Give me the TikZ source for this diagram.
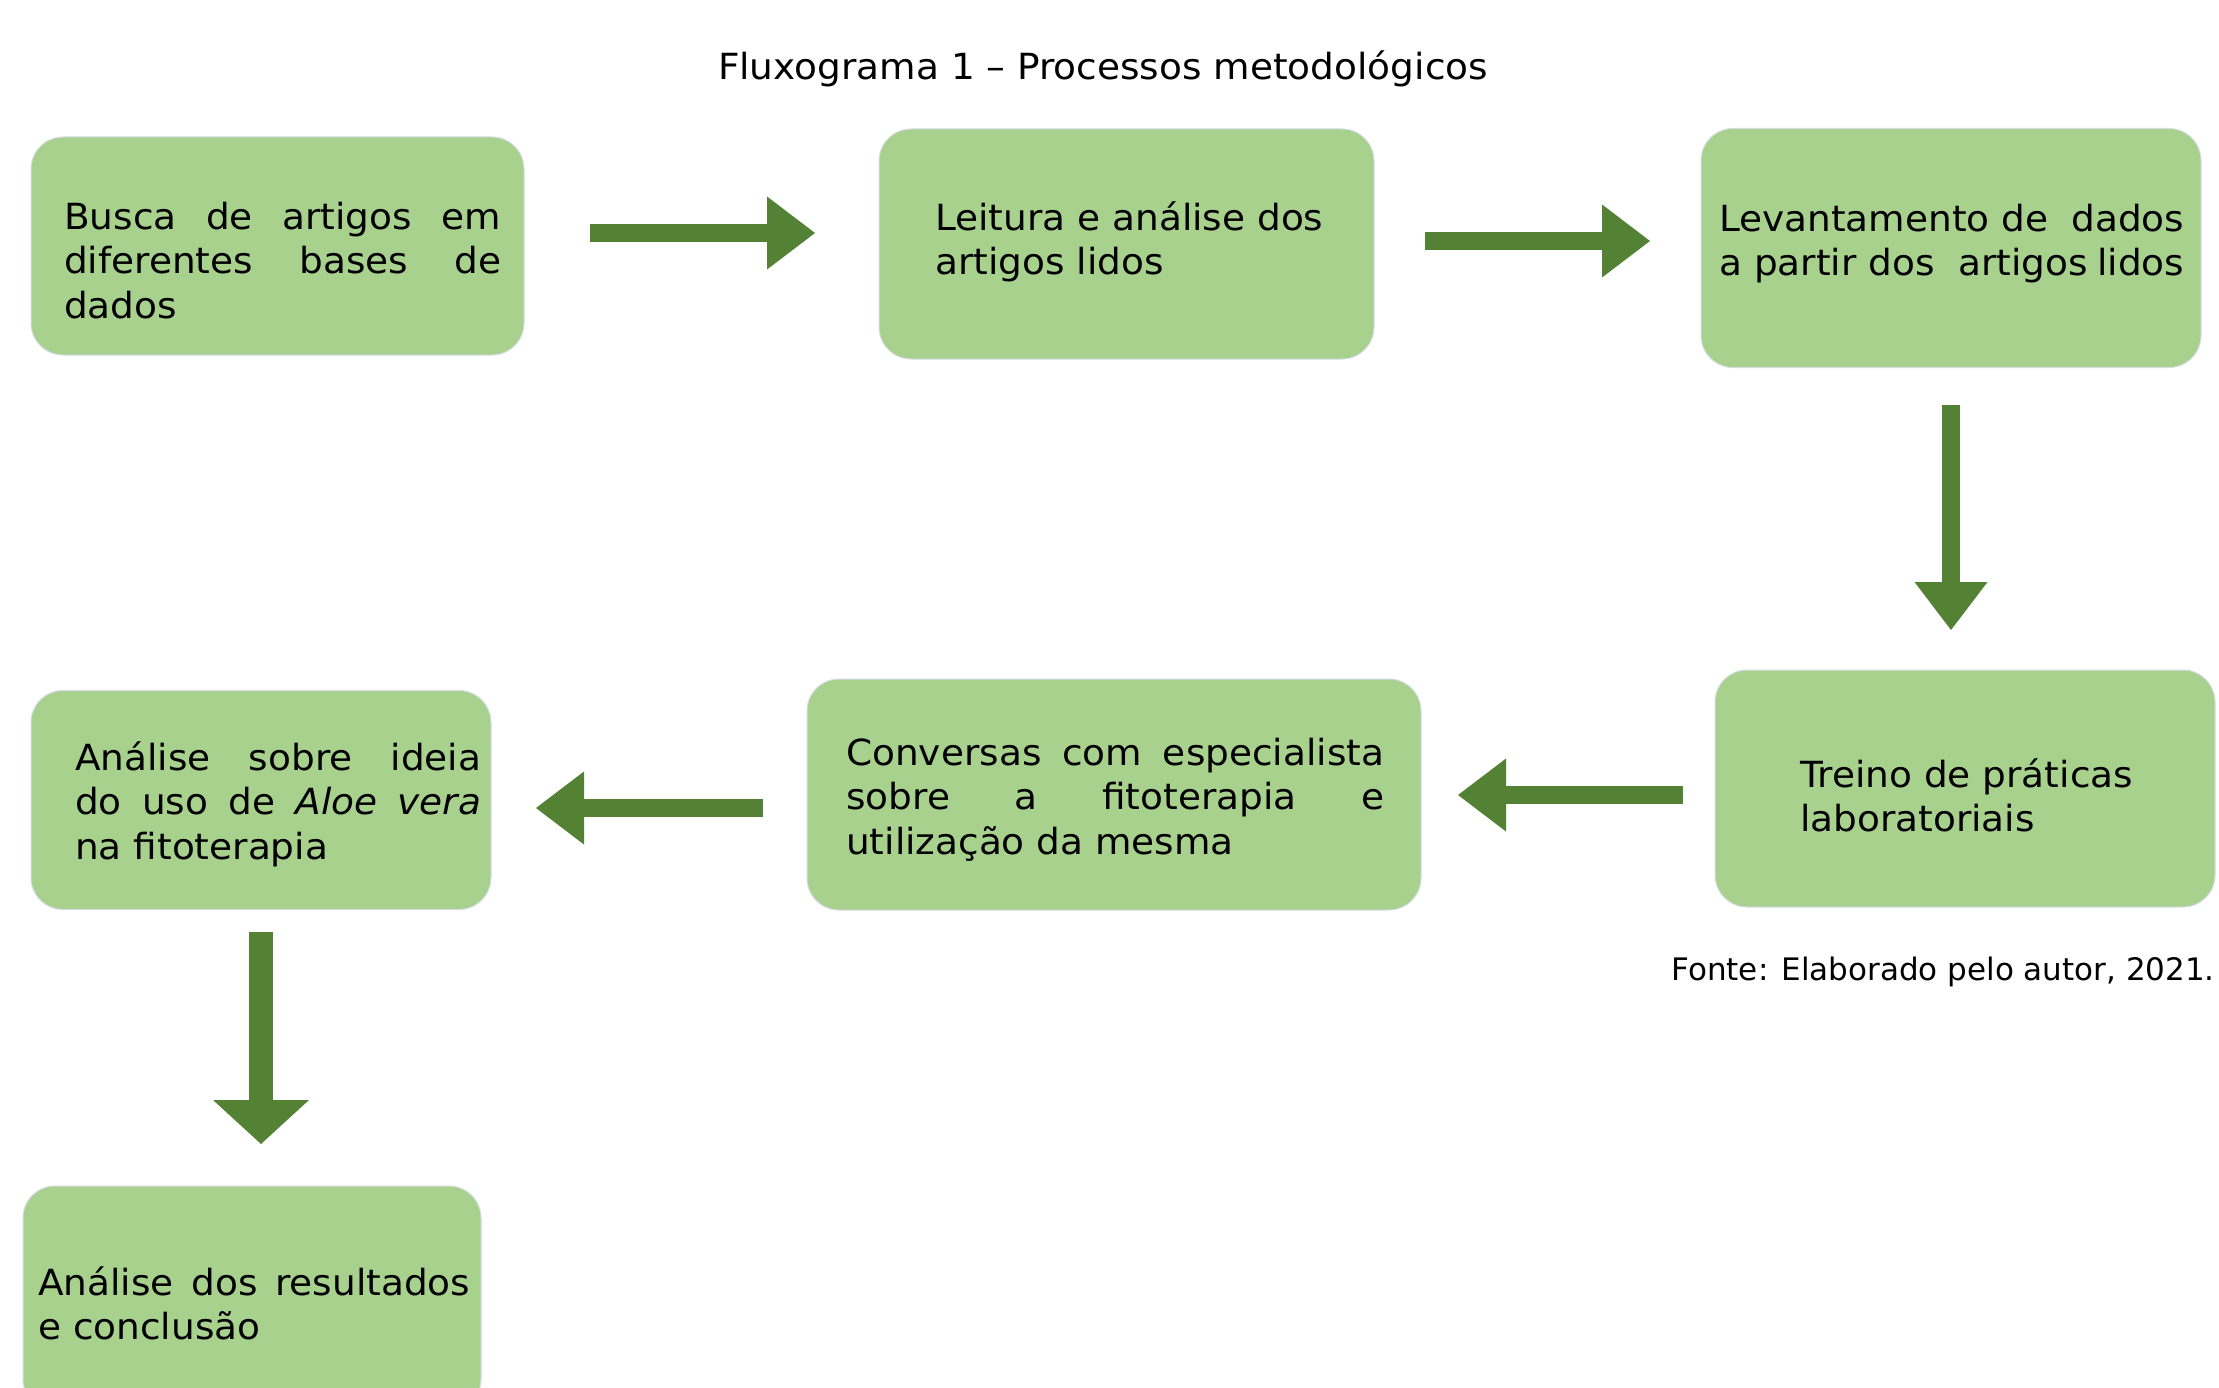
\documentclass[tikz,border=0pt]{standalone}
\usepackage{fontspec}
\setmainfont{DejaVu Sans}[FakeStretch=1.04]
\newfontfamily\fontefont{DejaVu Sans}
\usetikzlibrary{arrows.meta}
\definecolor{boxgreen}{HTML}{A9D18E}
\definecolor{arrgreen}{HTML}{548235}
\definecolor{boxedge}{HTML}{D5DCE4}
\begin{document}
\begin{tikzpicture}[x=1pt,y=-1pt,
  box/.style={fill=boxgreen, draw=boxedge, line width=1pt, rounded corners=32pt, inner sep=0pt},
  txt/.style={anchor=north west, inner sep=0pt, font=\fontsize{36}{44.5}\selectfont, align=justify},
  txtl/.style={anchor=north west, inner sep=0pt, font=\fontsize{36}{44.5}\selectfont, align=left},
  arr/.style={arrgreen, line width=18pt, -{Triangle[width=73pt,length=48pt,line width=0pt]}},
  arrbig/.style={arrgreen, line width=24pt, -{Triangle[width=96pt,length=44pt,line width=0pt]}},
]
\clip (0,0) rectangle (2219,1388);
\fill[white] (0,0) rectangle (2219,1388);

% title and source
\node[anchor=base, inner sep=0pt, font=\fontsize{36}{44}\selectfont] (title) at (1103,80) {Fluxograma 1 – Processos metodológicos};
\node[anchor=base east, inner sep=0pt, font=\fontefont\fontsize{31}{38}\selectfont] (fonte) at (2215,980) {Fonte: Elaborado pelo autor, 2021.};

% boxes
\node[box, minimum width=493pt, minimum height=218pt] (b1) at (277.5,246) {};
\node[box, minimum width=495pt, minimum height=230pt] (b2) at (1126.5,244) {};
\node[box, minimum width=500pt, minimum height=239pt] (b3) at (1951,248) {};
\node[box, minimum width=500pt, minimum height=237pt] (b4) at (1965,788.5) {};
\node[box, minimum width=614pt, minimum height=231pt] (b5) at (1114,794.5) {};
\node[box, minimum width=460pt, minimum height=219pt] (b6) at (261,800) {};
\node[box, minimum width=458pt, minimum height=225pt] (b7) at (252,1298.5) {};

% texts
\node[txt, text width=437pt] (t1) at (64,198) {\strut Busca de artigos em\linebreak diferentes bases de\linebreak dados};
\node[txtl] (t2) at (935,199) {\strut Leitura e análise dos\\ artigos lidos};
\node[txt, text width=465pt] (t3) at (1719,200) {\strut Levantamento de \ dados\linebreak a partir dos \ artigos\hfill lidos};
\node[txtl] (t4) at (1800,756) {\strut Treino de práticas\\ laboratoriais};
\node[txt, text width=538pt] (t5) at (846,734) {\strut Conversas com especialista\linebreak sobre a fitoterapia e\linebreak utilização da mesma};
\node[txt, text width=406pt] (t6) at (75,739) {\strut Análise sobre ideia\linebreak do uso de \textit{Aloe vera}\linebreak na fitoterapia};
\node[txt, text width=432pt] (t7) at (38,1264) {\strut Análise dos resultados\linebreak e conclusão};

% arrow end points
\coordinate (a1s) at (590,233);  \coordinate (a1e) at (815,233);
\coordinate (a2s) at (1425,241); \coordinate (a2e) at (1650,241);
\coordinate (a3s) at (1951,405); \coordinate (a3e) at (1951,630);
\coordinate (a4s) at (1683,795); \coordinate (a4e) at (1458,795);
\coordinate (a5s) at (763,808);  \coordinate (a5e) at (536,808);
\coordinate (a6s) at (261,932);  \coordinate (a6e) at (261,1144);

\draw[arr] (a1s) -- (a1e);
\draw[arr] (a2s) -- (a2e);
\draw[arr] (a3s) -- (a3e);
\draw[arr] (a4s) -- (a4e);
\draw[arr] (a5s) -- (a5e);
\draw[arrbig] (a6s) -- (a6e);
\end{tikzpicture}
\end{document}
